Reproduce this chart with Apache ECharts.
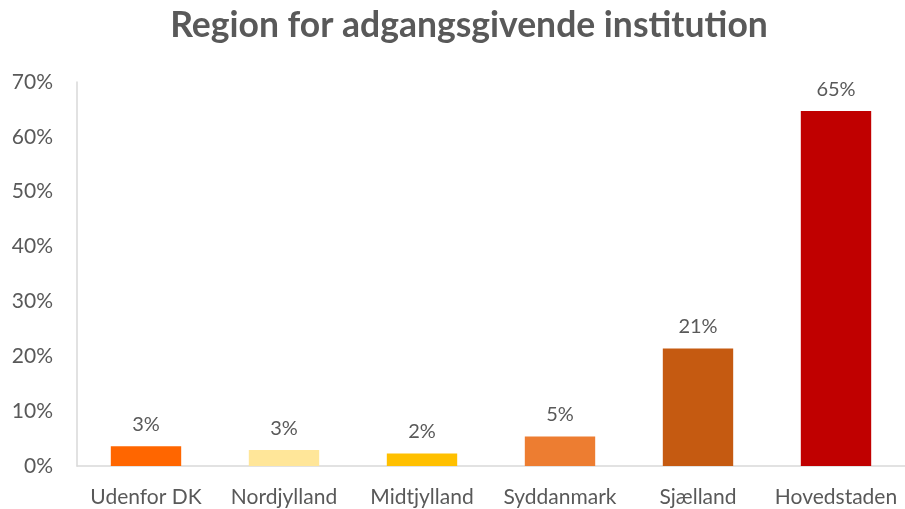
<!DOCTYPE html>
<html><head><meta charset="utf-8">
<script src="https://cdn.jsdelivr.net/npm/echarts@6/dist/echarts.min.js"></script>
<style>html,body{margin:0;padding:0;background:#fff}#c{width:905px;height:509px}</style>
</head><body><div id="c"></div>
<script>
const categories = ["Udenfor DK","Nordjylland","Midtjylland","Syddanmark","Sjælland","Hovedstaden"];
const values = [3.6, 2.9, 2.3, 5.4, 21.4, 64.7];
const valueLabels = ["3%","3%","2%","5%","21%","65%"];
const colors = ["#FF6600","#FFE699","#FFC000","#ED7D31","#C55A11","#C00000"];
const yTicks = [0,10,20,30,40,50,60,70];

const chart = echarts.init(document.getElementById('c'));
chart.setOption({
  animation:false,
  title:{text:"Region for adgangsgivende institution", left:464, top:3, textAlign:'center',
    textStyle:{fontFamily:'Lato', fontWeight:'bold', fontSize:35.5, color:'#595959'}},
  grid:{left:77, right:0, top:82, bottom:43},
  xAxis:{type:'category', data:categories,
    axisLine:{lineStyle:{color:'#D9D9D9', width:1.5}}, axisTick:{show:false},
    axisLabel:{interval:0, color:'#595959', fontFamily:'Lato', fontSize:21, margin:21}},
  yAxis:{type:'value', min:0, max:70, interval:10,
    axisLine:{show:true, lineStyle:{color:'#D9D9D9', width:1.5}}, splitLine:{show:false},
    axisLabel:{color:'#595959', fontFamily:'Lato', fontSize:21, margin:24,
      formatter:v=> yTicks.includes(v) ? v+'%' : ''}},
  series:[{type:'bar', barWidth:'51%',
    data: values.map((v,i)=>({value:v, itemStyle:{color:colors[i]}})),
    label:{show:true, position:'top', distance:12, color:'#595959', fontFamily:'Lato', fontSize:20,
      formatter:p=>valueLabels[p.dataIndex]}}]
});
</script></body></html>
